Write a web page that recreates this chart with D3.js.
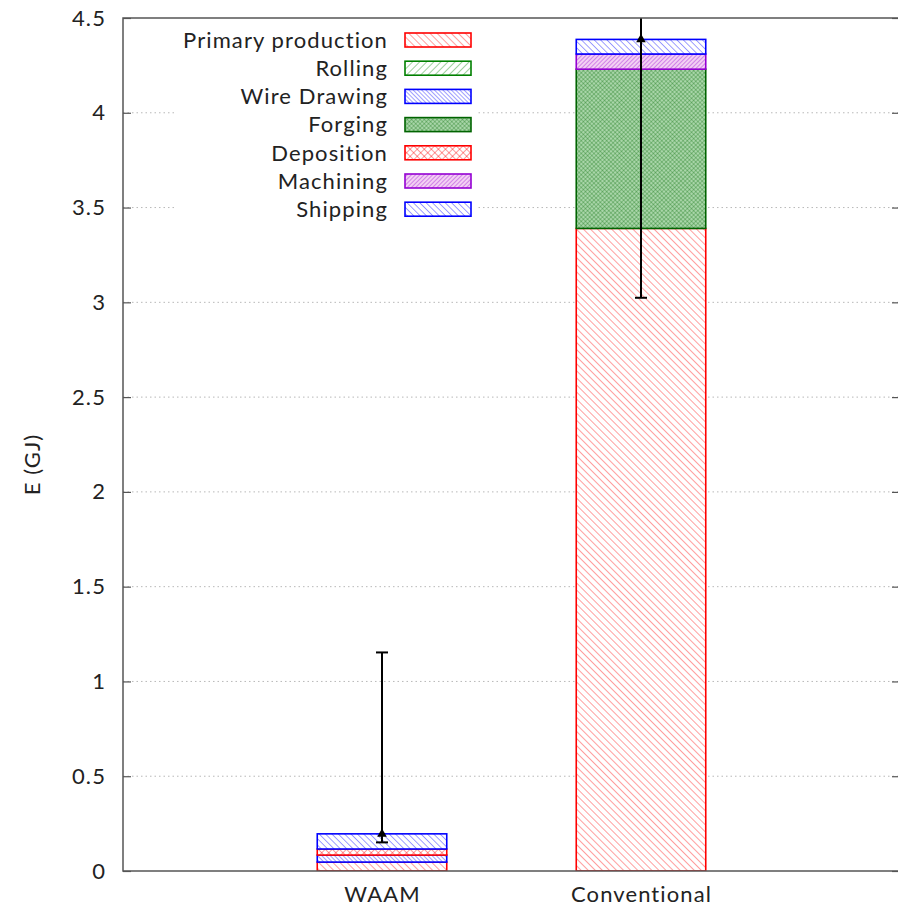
<!DOCTYPE html>
<html><head><meta charset="utf-8">
<script src="https://cdn.jsdelivr.net/npm/d3@7"></script>
<style>html,body{margin:0;padding:0;background:#fff;} svg{display:block;font-family:Lato,"DejaVu Sans",sans-serif;}</style>
</head><body>
<script>
const categories = ["WAAM", "Conventional"];
const series = ["Primary production", "Rolling", "Wire Drawing", "Forging", "Deposition", "Machining", "Shipping"];
const waamValues = [0.047, 0, 0.037, 0, 0.032, 0, 0.080];
const conventionalValues = [3.39, 0, 0, 0.84, 0, 0.08, 0.077];
const errCenter = [0.195, 4.387];
const errLow = [0.151, 3.024];
const errHigh = [1.153, 5.75];
const yTicks = [0, 0.5, 1, 1.5, 2, 2.5, 3, 3.5, 4, 4.5];
const yTickLabels = ["0", "0.5", "1", "1.5", "2", "2.5", "3", "3.5", "4", "4.5"];
const seriesColors = ["#ff0000", "#008000", "#0000ff", "#006400", "#ff0000", "#9400d3", "#0000ff"];
const patternKind = ["back", "fwd", "back", "cross", "cross", "fwd", "back"];
const patternGap = [5, 5, 3, 3, 5, 3, 4.5];
const patternBg = ["none", "none", "none", "#a9d6a9", "none", "#f3d0f3", "none"];

const W = 898, H = 912;
const M = {left: 123, top: 18, right: 900, bottom: 871};
const FS = 22, LS = "1.1px";

const svg = d3.select("body").append("svg").attr("width", W).attr("height", H);
const defs = svg.append("defs");
defs.append("clipPath").attr("id", "plotclip").append("rect")
  .attr("x", M.left).attr("y", M.top).attr("width", M.right - M.left).attr("height", M.bottom - M.top);

series.forEach((s, i) => {
  const g = patternGap[i];
  const p = defs.append("pattern").attr("id", "pat" + i).attr("patternUnits", "userSpaceOnUse")
    .attr("width", g).attr("height", g);
  if (patternKind[i] === "cross") {
    p.attr("patternTransform", "rotate(45)");
    p.append("rect").attr("width", g).attr("height", g).attr("fill", patternBg[i] === "none" ? "#fff" : patternBg[i]);
    const op = patternBg[i] === "none" ? 0.8 : 0.55;
    p.append("line").attr("x1", 0).attr("y1", 0).attr("x2", 0).attr("y2", g).attr("stroke", seriesColors[i]).attr("stroke-width", 1).attr("stroke-opacity", op);
    p.append("line").attr("x1", 0).attr("y1", 0).attr("x2", g).attr("y2", 0).attr("stroke", seriesColors[i]).attr("stroke-width", 1).attr("stroke-opacity", op);
  } else {
    p.attr("patternTransform", patternKind[i] === "fwd" ? "rotate(45)" : "rotate(-45)");
    p.append("rect").attr("width", g).attr("height", g).attr("fill", patternBg[i] === "none" ? "#fff" : patternBg[i]);
    p.append("line").attr("x1", 0).attr("y1", 0).attr("x2", 0).attr("y2", g).attr("stroke", seriesColors[i]).attr("stroke-width", 1).attr("stroke-opacity", 0.75);
  }
});

const x = d3.scaleLinear().domain([0, 3]).range([M.left, M.right]);
const y = d3.scaleLinear().domain([0, 4.5]).range([M.bottom, M.top]);
const barHalf = 0.25;

// grid
svg.append("g").selectAll("line").data(yTicks.slice(1, -1)).join("line")
  .attr("x1", M.left).attr("x2", M.right).attr("y1", d => y(d)).attr("y2", d => y(d))
  .attr("stroke", "#b8b8b8").attr("stroke-width", 1).attr("stroke-dasharray", "1.5,3");

// stacked bars
const rows = categories.map((c, ci) => {
  const o = {cat: c, idx: ci};
  series.forEach((s, si) => o[s] = (ci === 0 ? waamValues : conventionalValues)[si]);
  return o;
});
const stacked = d3.stack().keys(series)(rows);
const barG = svg.append("g").attr("clip-path", "url(#plotclip)");
stacked.forEach((layer, si) => {
  barG.append("g").selectAll("rect").data(layer.filter(d => d[1] - d[0] > 0)).join("rect")
    .attr("x", d => x(d.data.idx + 1 - barHalf))
    .attr("width", d => x(d.data.idx + 1 + barHalf) - x(d.data.idx + 1 - barHalf))
    .attr("y", d => y(d[1]))
    .attr("height", d => y(d[0]) - y(d[1]))
    .attr("fill", "url(#pat" + si + ")")
    .attr("stroke", seriesColors[si]).attr("stroke-width", 1.6);
});

// error bars
const errG = svg.append("g").attr("clip-path", "url(#plotclip)");
categories.forEach((c, i) => {
  const cx = x(i + 1);
  errG.append("line").attr("x1", cx).attr("x2", cx).attr("y1", y(errLow[i])).attr("y2", y(errHigh[i]))
    .attr("stroke", "#000").attr("stroke-width", 2);
  [errLow[i], errHigh[i]].forEach(v => {
    errG.append("line").attr("x1", cx - 6).attr("x2", cx + 6).attr("y1", y(v)).attr("y2", y(v))
      .attr("stroke", "#000").attr("stroke-width", 2);
  });
  errG.append("path").attr("d", d3.symbol(d3.symbolTriangle, 40)())
    .attr("transform", `translate(${cx},${y(errCenter[i])})`).attr("fill", "#000");
});

// frame
svg.append("path").attr("d", `M${M.right},${M.top}H${M.left}V${M.bottom}H${M.right}V${M.top}`)
  .attr("fill", "none").attr("stroke", "#555").attr("stroke-width", 1.5);

// y axis (left) with inward ticks
const yAxis = d3.axisLeft(y).tickValues(yTicks).tickFormat((d, i) => yTickLabels[i]).tickSizeInner(-8).tickSizeOuter(0).tickPadding(17);
const ya = svg.append("g").attr("transform", `translate(${M.left},0)`).call(yAxis);
ya.select(".domain").remove();
ya.selectAll(".tick line").attr("stroke", "#555").attr("stroke-width", 1.2);
ya.selectAll("text").attr("font-size", FS).attr("letter-spacing", LS).attr("fill", "#222").attr("font-family", "Lato");
// right mirror ticks
const yr = svg.append("g").attr("transform", `translate(${M.right},0)`).call(d3.axisRight(y).tickValues(yTicks).tickSizeInner(-8).tickSizeOuter(0).tickFormat(""));
yr.select(".domain").remove();
yr.selectAll(".tick line").attr("stroke", "#555").attr("stroke-width", 1.2);

// x axis labels
const xa = svg.append("g").attr("transform", `translate(0,${M.bottom})`)
  .call(d3.axisBottom(x).tickValues([1, 2]).tickFormat((d) => categories[d - 1]).tickSize(0).tickPadding(15));
xa.select(".domain").remove();
xa.selectAll("text").attr("font-size", FS).attr("letter-spacing", LS).attr("fill", "#222").attr("font-family", "Lato");

// y label
svg.append("text").attr("transform", `translate(40,${(M.top + M.bottom) / 2 + 20}) rotate(-90)`)
  .attr("text-anchor", "middle").attr("font-size", FS).attr("letter-spacing", LS).attr("fill", "#222").text("E (GJ)");

// legend
const lg = svg.append("g");
lg.append("rect").attr("x", 176).attr("y", 26).attr("width", 302).attr("height", 196).attr("fill", "#fff");
series.forEach((s, i) => {
  const cy = 40 + i * 28.2;
  lg.append("text").attr("x", 388).attr("y", cy).attr("dy", "0.35em").attr("text-anchor", "end")
    .attr("font-size", FS).attr("letter-spacing", LS).attr("fill", "#222").text(s);
  lg.append("rect").attr("x", 405).attr("y", cy - 7).attr("width", 66).attr("height", 14)
    .attr("fill", "url(#pat" + i + ")").attr("stroke", seriesColors[i]).attr("stroke-width", 1.6);
});
</script>
</body></html>
